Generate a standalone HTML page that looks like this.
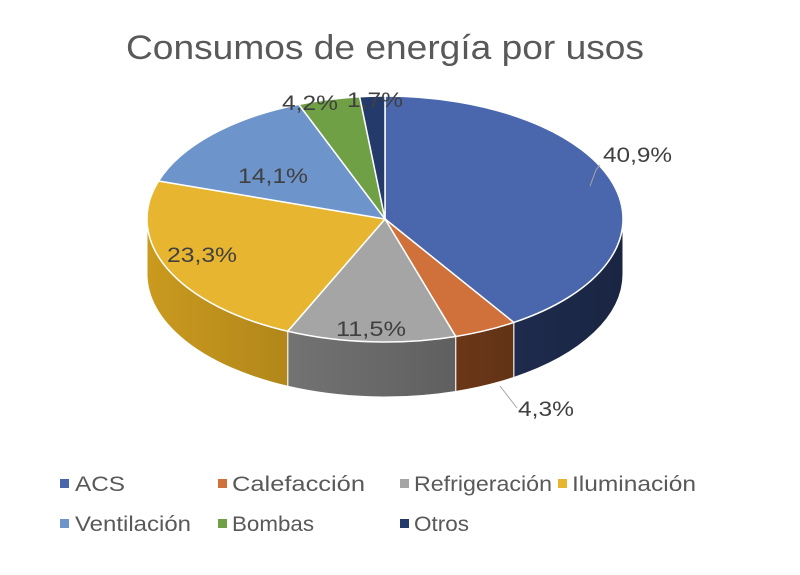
<!DOCTYPE html>
<html><head><meta charset="utf-8"><style>
body{margin:0;background:#fff;width:800px;height:570px;overflow:hidden}
svg text{font-family:"Liberation Sans",sans-serif}
</style></head><body>
<svg id="s" width="800" height="570" xmlns="http://www.w3.org/2000/svg">
<defs>
<linearGradient id="gs" gradientUnits="userSpaceOnUse" x1="147" x2="623" y1="0" y2="0">
<stop offset="0" stop-color="#000" stop-opacity="0.05"/>
<stop offset="1" stop-color="#000" stop-opacity="0.45"/>
</linearGradient>
</defs>
<g id="pie"></g>
<text x="385" y="59" text-anchor="middle" font-size="34" fill="#595959" textLength="518" lengthAdjust="spacingAndGlyphs">Consumos de energía por usos</text>
<g font-size="21" fill="#404040">
<text x="603" y="162" textLength="69" lengthAdjust="spacingAndGlyphs">40,9%</text>
<text x="518" y="416" textLength="56" lengthAdjust="spacingAndGlyphs">4,3%</text>
<text x="336" y="336" textLength="70" lengthAdjust="spacingAndGlyphs">11,5%</text>
<text x="167" y="262" textLength="70" lengthAdjust="spacingAndGlyphs">23,3%</text>
<text x="238" y="183" textLength="70" lengthAdjust="spacingAndGlyphs">14,1%</text>
<text x="282" y="110" textLength="56" lengthAdjust="spacingAndGlyphs">4,2%</text>
<text x="347" y="107" textLength="56" lengthAdjust="spacingAndGlyphs">1,7%</text>
</g>
<g stroke="#a6a6a6" stroke-width="1" fill="none">
<polyline points="600,165 596,170 590,186"/>
<polyline points="500,386 517,408"/>
</g>
<g font-size="21" fill="#595959">
<rect x="60" y="479" width="9" height="9" fill="#4a66ac"/><text x="75" y="491" textLength="50" lengthAdjust="spacingAndGlyphs">ACS</text>
<rect x="218" y="479" width="9" height="9" fill="#d0703a"/><text x="232" y="491" textLength="133" lengthAdjust="spacingAndGlyphs">Calefacción</text>
<rect x="400" y="479" width="9" height="9" fill="#a5a5a5"/><text x="414" y="491" textLength="138" lengthAdjust="spacingAndGlyphs">Refrigeración</text>
<rect x="558" y="479" width="9" height="9" fill="#e7b52f"/><text x="572" y="491" textLength="124" lengthAdjust="spacingAndGlyphs">Iluminación</text>
<rect x="60" y="519" width="9" height="9" fill="#6d95cb"/><text x="75" y="531" textLength="116" lengthAdjust="spacingAndGlyphs">Ventilación</text>
<rect x="218" y="519" width="9" height="9" fill="#6fa045"/><text x="232" y="531" textLength="82" lengthAdjust="spacingAndGlyphs">Bombas</text>
<rect x="400" y="519" width="9" height="9" fill="#243a6b"/><text x="414" y="531" textLength="55" lengthAdjust="spacingAndGlyphs">Otros</text>
</g>
</svg>
<script>
var cx=385,cy=219,rx=238,ry=123,d=55;
var data=[[40.9,"#4a66ac","#2f4378"],[4.3,"#d0703a","#9a4f22"],[11.5,"#a5a5a5","#8a8a8a"],[23.3,"#e7b52f","#d5a220"],[14.1,"#6d95cb","#34507a"],[4.2,"#6fa045","#35521f"],[1.7,"#243a6b","#101a30"]];
function P(a,dy){a=a*Math.PI/180;return [cx+rx*Math.sin(a),cy-ry*Math.cos(a)+(dy||0)];}
var g=document.getElementById('pie'),sides="",tops="";
var a=0;
data.forEach(function(s){
 var a1=a,a2=a+s[0]*3.6;a=a2;
 var b1=Math.max(a1,90),b2=Math.min(a2,270);
 if(b2>b1){
  var p1=P(b1),p2=P(b2),q2=P(b2,d),q1=P(b1,d);
  var path='M'+p1+' A'+rx+','+ry+' 0 0 1 '+p2+' L'+q2+' A'+rx+','+ry+' 0 0 0 '+q1+' Z';
  sides+='<path d="'+path+'" fill="'+s[2]+'"/>';
  sides+='<path d="'+path+'" fill="url(#gs)" stroke="#fff" stroke-width="1"/>';
 }
 var t1=P(a1),t2=P(a2),lg=(a2-a1)>180?1:0;
 tops+='<path d="M'+cx+','+cy+' L'+t1+' A'+rx+','+ry+' 0 '+lg+' 1 '+t2+' Z" fill="'+s[1]+'" stroke="#fff" stroke-width="1.5"/>';
});
g.innerHTML=sides+tops;
</script>
</body></html>
